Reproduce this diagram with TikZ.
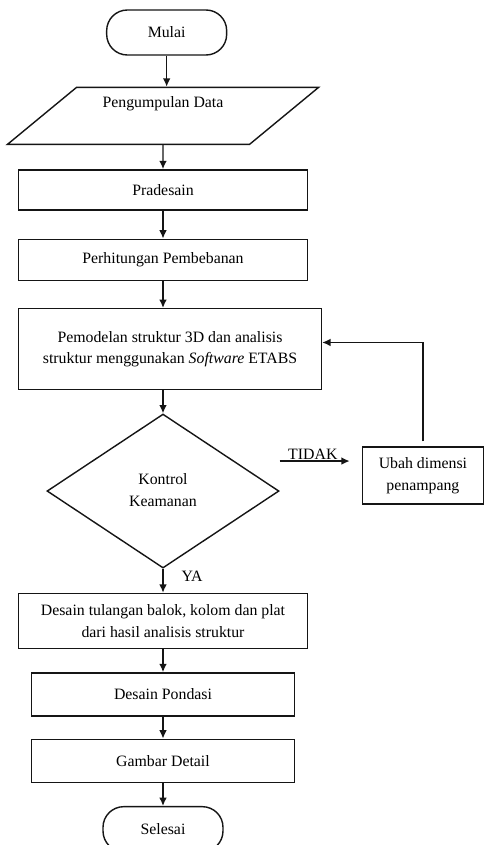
\documentclass[tikz,border=0pt]{standalone}
\usepackage{fontspec}
\setmainfont{Liberation Serif}
\usetikzlibrary{arrows.meta,positioning,shapes.geometric}
\definecolor{Ink}{HTML}{151515}
\tikzset{
  box/.style={draw=Ink,fill=white,line width=1.2pt,align=center,inner sep=.1cm,font=\fontsize{13.5}{18.5}\selectfont},
  terminal/.style={box,rounded corners=.62cm,minimum width=3.6cm,minimum height=1.35cm},
  io/.style={box,trapezium,trapezium left angle=42,trapezium right angle=138,trapezium stretches=true,minimum width=9.36cm,minimum height=1.71cm},
  decision/.style={box,diamond,inner sep=0pt,minimum width=6.96cm,minimum height=4.62cm},
  flow/.style={-{Latex[length=2.5mm,width=2.3mm]},draw=Ink,line width=1.2pt},
  tag/.style={font=\fontsize{13.5}{16}\selectfont,inner sep=1pt}
}
\begin{document}
\begin{tikzpicture}[node distance=.72cm]
  \useasboundingbox (0,0) rectangle (14.52,-25.35);
  \node[terminal] (mulai) at (5.0,-.975) {Mulai};
  \node[io,below=.93cm of mulai,xshift=-.11cm] (data) {Pengumpulan Data\\\strut};
  \node[box,minimum width=8.67cm,minimum height=1.2cm,below=of data] (pradesain) {Pradesain};
  \node[box,minimum width=8.67cm,minimum height=1.23cm,below=.84cm of pradesain] (beban) {Perhitungan Pembebanan};
  \node[box,minimum width=9.09cm,minimum height=2.43cm,below=.81cm of beban,xshift=.21cm] (model) {Pemodelan struktur 3D dan analisis\\struktur menggunakan \textit{Software} ETABS};
  \node[decision,below=.69cm of model,xshift=-.21cm] (kontrol) {\raisebox{.18cm}{\begin{tabular}{@{}c@{}}Kontrol\\Keamanan\end{tabular}}};
  \node[box,minimum width=3.63cm,minimum height=1.71cm,right=2.46cm of kontrol,yshift=.465cm] (ubah) {Ubah dimensi\\penampang};
  \node[box,minimum width=8.67cm,minimum height=1.65cm,below=of kontrol] (tulangan) {Desain tulangan balok, kolom dan plat\\dari hasil analisis struktur};
  \node[box,minimum width=7.89cm,minimum height=1.29cm,below=.69cm of tulangan] (pondasi) {Desain Pondasi};
  \node[box,minimum width=7.89cm,minimum height=1.29cm,below=.66cm of pondasi] (detail) {Gambar Detail};
  \node[terminal,below=.69cm of detail] (selesai) {Selesai};
  \coordinate (tidakend) at ([xshift=-.36cm,yshift=.435cm]ubah.west);

  \draw[flow] (mulai) -- (mulai |- data.north);
  \draw[flow] (data) -- (pradesain);
  \draw[flow] (pradesain) -- (beban);
  \draw[flow] (beban) -- (beban |- model.north);
  \draw[flow] (model.south -| kontrol) -- (kontrol);
  \draw[flow] (tidakend -| kontrol.east) -- (tidakend) node[pos=0,anchor=south west,tag,xshift=.2cm] {TIDAK};
  \draw[flow] ([yshift=.15cm]ubah.north) |- ([yshift=.2cm]model.east);
  \draw[flow] (kontrol) -- (tulangan) node[pos=.3,anchor=west,tag,xshift=.5cm] {YA};
  \draw[flow] (tulangan) -- (pondasi);
  \draw[flow] (pondasi) -- (detail);
  \draw[flow] (detail) -- (selesai);
\end{tikzpicture}
\end{document}
